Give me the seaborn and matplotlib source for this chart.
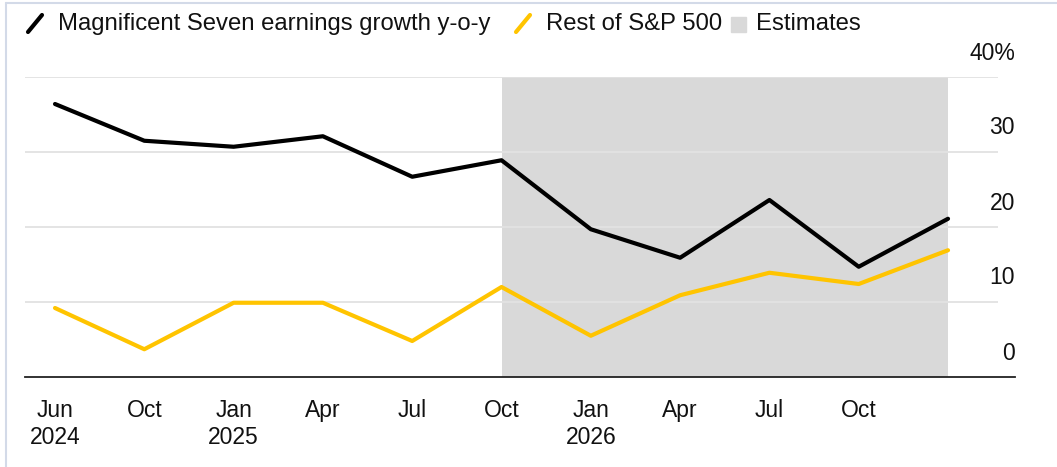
import pandas as pd
import matplotlib.pyplot as plt
import seaborn as sns
from matplotlib.lines import Line2D
from matplotlib.patches import Rectangle

sns.set_style("white")
plt.rcParams['font.family'] = ['Liberation Sans', 'DejaVu Sans']

# quarterly points, Jun 2024 .. end of 2026
tick_labels = ["Jun\n2024", "Oct", "Jan\n2025", "Apr", "Jul", "Oct",
               "Jan\n2026", "Apr", "Jul", "Oct", ""]
mag7 = [36.4, 31.5, 30.7, 32.1, 26.7, 28.9, 19.7, 15.9, 23.6, 14.7, 21.1]
rest = [9.2, 3.7, 9.9, 9.9, 4.8, 12.0, 5.5, 10.9, 13.9, 12.4, 16.9]
estimate_start = 5
estimate_end = 10
y_ticks = [0, 10, 20, 30, 40]

black = "#000000"
yellow = "#FFC400"
shade = "#D9D9D9"

idx = list(range(len(mag7)))
df = pd.DataFrame({
    "x": idx * 2,
    "value": mag7 + rest,
    "series": ["Magnificent Seven earnings growth y-o-y"] * len(mag7) + ["Rest of S&P 500"] * len(rest),
})

fig = plt.figure(figsize=(10.57, 4.67), dpi=100)
ax = fig.add_axes([25 / 1057, 90 / 467, 990 / 1057, 300 / 467])

ax.axvspan(estimate_start, estimate_end, color=shade, lw=0, zorder=0)

sns.lineplot(data=df, x="x", y="value", hue="series",
             palette=[black, yellow], linewidth=3.0, legend=False, ax=ax, zorder=3)

xmin, xmax = -0.336, 10.75
ax.set_xlim(xmin, xmax)
ax.set_ylim(0, 40)

# gridlines and right-side labels
for v in y_ticks[1:]:
    ax.hlines(v, xmin, 10.56, color="#E2E2E2", lw=1.3, zorder=1)
for v in y_ticks:
    lab = f"{v}%" if v == 40 else str(v)
    ax.text(1.0, v + 3.2, lab, transform=ax.get_yaxis_transform(),
            ha="right", va="center", fontsize=16.5, color="#111111", clip_on=False)

ax.set_yticks([])
for s in ["top", "left", "right"]:
    ax.spines[s].set_visible(False)
ax.spines["bottom"].set_color("#222222")
ax.spines["bottom"].set_linewidth(1.3)

ax.set_xticks(idx[:-1])
ax.set_xticklabels(tick_labels[:-1], fontsize=16.5, linespacing=1.25, color="#111111")
ax.tick_params(axis="x", direction="out", length=6.5, width=1.2, color="#333333", pad=9)
ax.set_xlabel("")
ax.set_ylabel("")

# legend drawn along the top
def px(x, y):
    return x / 1057, 1 - y / 467

for (x0, col, text) in [(28, black, "Magnificent Seven earnings growth y-o-y"),
                        (516, yellow, "Rest of S&P 500")]:
    (a, b), (c, d) = px(x0, 32), px(x0 + 14, 15)
    fig.add_artist(Line2D([a, c], [b, d], color=col, lw=3.0, transform=fig.transFigure))
    fig.text(*px(x0 + 30, 24), text, ha="left", va="center", fontsize=17.2, color="#111111")

sx, sy = px(731, 32)
fig.add_artist(Rectangle((sx, sy), 15 / 1057, 15 / 467, color=shade, transform=fig.transFigure))
fig.text(*px(756, 24), "Estimates", ha="left", va="center", fontsize=17.2, color="#111111")

# faint frame on the left and top edges
fig.add_artist(Line2D([6 / 1057, 6 / 1057], [0, 1 - 3 / 467], color="#D3DAE8", lw=1.5, transform=fig.transFigure))
fig.add_artist(Line2D([6 / 1057, 1], [1 - 3 / 467, 1 - 3 / 467], color="#D3DAE8", lw=1.5, transform=fig.transFigure))

fig.savefig("out.png", dpi=100)
